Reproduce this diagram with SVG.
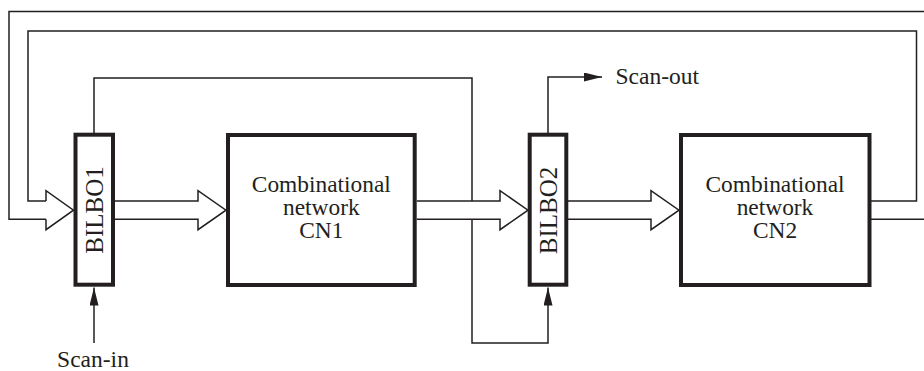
<svg xmlns="http://www.w3.org/2000/svg" width="924" height="371" viewBox="0 0 924 371">
<style>
.box{fill:#fff;stroke:#231f20;stroke-width:4}
.ln{fill:none;stroke:#231f20;stroke-width:1.5}
.bus{fill:#fff;stroke:#231f20;stroke-width:1.5;stroke-linejoin:miter}
.t{font-family:'Liberation Serif','DejaVu Serif',serif;fill:#231f20}
.lbl{font-size:23.4px;text-anchor:middle}
.bil{font-size:25px;text-anchor:middle}
.io{font-size:23.5px}
</style>
<defs>
<marker id="ah" markerWidth="18" markerHeight="9" refX="18" refY="4.5" orient="auto" markerUnits="userSpaceOnUse">
<path d="M0,0 L18,4.5 L0,9 Z" fill="#231f20"/>
</marker>
</defs>
<g id="connectors">
<polyline class="ln" points="869.5,201 916.5,201 916.5,31 28,31 28,201 46,201"/>
<polyline class="ln" points="869.5,219.3 924,219.3"/>
<polyline class="ln" points="924,11.5 9,11.5 9,219.3 46,219.3"/>
<path class="bus" d="M46,201 L46,190.7 L73.5,210.2 L46,229.7 L46,219.3"/>
<polyline class="ln" points="94,133 94,78 472,78 472,201"/>
<polyline class="ln" points="472,219.3 472,343 548,343 548,287.5" marker-end="url(#ah)"/>
<line class="ln" x1="94" y1="343" x2="94" y2="287.5" marker-end="url(#ah)"/>
<polyline class="ln" points="548,133 548,77 602,77" marker-end="url(#ah)"/>
<path class="bus" d="M115,201 L198,201 L198,190.7 L226,210.2 L198,229.7 L198,219.3 L115,219.3"/>
<path class="bus" d="M416.7,201 L500,201 L500,190.7 L528,210.2 L500,229.7 L500,219.3 L416.7,219.3"/>
<path class="bus" d="M568,201 L651,201 L651,190.7 L679,210.2 L651,229.7 L651,219.3 L568,219.3"/>
</g>
<g id="bilbo1">
<rect class="box" x="75.5" y="134.7" width="37.5" height="150"/>
<text class="t bil" transform="translate(103.3,210) rotate(-90)">BILBO1</text>
</g>
<g id="cn1">
<rect class="box" x="228" y="135" width="186.7" height="150"/>
<text class="t lbl" x="321.3" y="191.7">Combinational</text>
<text class="t lbl" x="321.3" y="214.7">network</text>
<text class="t lbl" x="321.3" y="237.7">CN1</text>
</g>
<g id="bilbo2">
<rect class="box" x="529.7" y="134.7" width="36.6" height="150"/>
<text class="t bil" transform="translate(556.5,210.5) rotate(-90)">BILBO2</text>
</g>
<g id="cn2">
<rect class="box" x="681" y="135" width="188.5" height="150"/>
<text class="t lbl" x="775" y="191.7">Combinational</text>
<text class="t lbl" x="775" y="214.7">network</text>
<text class="t lbl" x="775" y="237.7">CN2</text>
</g>
<g id="scan-in">
<text class="t io" x="93" y="367" text-anchor="middle">Scan-in</text>
</g>
<g id="scan-out">
<text class="t io" x="615.5" y="83.5">Scan-out</text>
</g>
</svg>
